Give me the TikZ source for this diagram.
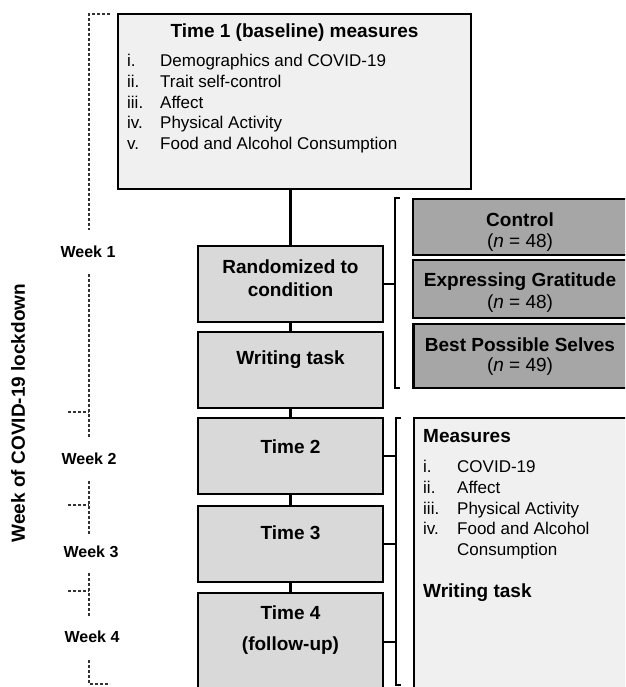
\documentclass[tikz,border=0pt]{standalone}
\usepackage{fontspec}
\setmainfont{Liberation Sans}
\definecolor{lightfill}{HTML}{F0F0F0}
\definecolor{midfill}{HTML}{D9D9D9}
\definecolor{darkfill}{HTML}{A6A6A6}
\definecolor{dashgray}{HTML}{333333}
\begin{document}
\begin{tikzpicture}[x=1pt,y=-1pt,
  boxbase/.style={draw=black,line width=2.5pt,inner sep=0pt,outer sep=0pt,rectangle},
  lightbox/.style={boxbase,fill=lightfill},
  midbox/.style={boxbase,fill=midfill,minimum width=185pt},
  darkbox/.style={boxbase,fill=darkfill,minimum width=214pt},
  conn/.style={draw=black,line width=2.5pt},
  brack/.style={draw=black,line width=1.3pt},
  wk/.style={draw=dashgray,line width=1.1pt,dash pattern=on 3pt off 2pt},
  bigb/.style={font=\fontsize{19}{23}\selectfont\bfseries,inner sep=0pt},
  reg/.style={font=\fontsize{19}{23}\selectfont,inner sep=0pt},
  item/.style={font=\fontsize{17}{20}\selectfont,inner sep=0pt,anchor=mid west},
  weekt/.style={font=\fontsize{16}{19}\selectfont\bfseries,inner sep=0pt}]
\clip (0,0) rectangle (625,687);
\fill[white] (0,0) rectangle (625,687);

% left boxes
\node[lightbox,minimum width=353pt,minimum height=175pt] (t1) at (294.5,101.5) {};
\node[midbox,minimum height=76pt] (rand) at (290.5,284) {};
\node[midbox,minimum height=76pt] (write) at (290.5,370) {};
\node[midbox,minimum height=76pt] (t2) at (290.5,456) {};
\node[midbox,minimum height=76pt] (t3) at (290.5,544) {};
\node[midbox,minimum height=98pt] (t4) at (290.5,642) {};

% connectors
\draw[conn] (t1.south -| rand.north) -- (rand.north);
\draw[conn] (rand) -- (write);
\draw[conn] (write) -- (t2);
\draw[conn] (t2) -- (t3);
\draw[conn] (t3) -- (t4);

% group boxes
\node[darkbox,minimum height=56pt] (ctrl) at (520,227) {};
\node[darkbox,minimum height=58pt] (grat) at (520,289) {};
\node[darkbox,minimum height=64pt] (best) at (520.5,356) {};
\node[lightbox,minimum width=228pt,minimum height=284pt] (meas) at (528,560) {};

% brackets
\coordinate (b1top) at (395,198);
\coordinate (b1bot) at (395,388);
\draw[brack] (400,198) -- (b1top) -- (b1bot) -- (400,388);
\coordinate (b1mid) at (395,284);
\draw[brack] (rand.east) -- (b1mid);

\coordinate (b2top) at (396,418);
\coordinate (b2bot) at (396,685);
\draw[brack] (401,418) -- (b2top) -- (b2bot) -- (401,685);
\draw[brack] (t2.east) -- (t2.east -| b2top);
\draw[brack] (t3.east) -- (t3.east -| b2top);
\draw[brack] (t4.east) -- (t4.east -| b2top);

% Time 1 text
\node[bigb] (t1title) at (294.5,33) {Time 1 (baseline) measures};
\foreach \lab/\txt [count=\k from 0] in {i./Demographics and COVID-19,ii./Trait self-control,iii./Affect,iv./Physical Activity,v./Food and Alcohol Consumption}{
  \node[item] (t1l\k) at (127,64+20.75*\k) {\lab};
  \node[item] (t1i\k) at (160,64+20.75*\k) {\txt};
}

% left box texts
\node[bigb] (randA) at (290.5,267) {Randomized to};
\node[bigb] (randB) at (290.5,290) {condition};
\node[bigb] (writeT) at (290.5,360) {Writing task};
\node[bigb] (t2T) at (290.5,447) {Time 2};
\node[bigb] (t3T) at (290.5,533) {Time 3};
\node[bigb] (t4T) at (290.5,613) {Time 4};
\node[bigb] (t4U) at (290.5,646) {(follow-up)};

% group texts
\node[bigb] (ctrlT) at (520,220) {Control};
\node[reg] (ctrlN) at (520,243) {(\textit{n} = 48)};
\node[bigb] (gratT) at (520,282) {Expressing Gratitude};
\node[reg] (gratN) at (520,304) {(\textit{n} = 48)};
\node[bigb] (bestT) at (520,345) {Best Possible Selves};
\node[reg] (bestN) at (520,367) {(\textit{n} = 49)};

% measures texts
\node[bigb,anchor=mid west] (measT) at (423,440) {Measures};
\foreach \lab/\txt [count=\k from 0] in {i./COVID-19,ii./Affect,iii./Physical Activity,iv./Food and Alcohol}{
  \node[item] (ml\k) at (423,470+20.75*\k) {\lab};
  \node[item] (mi\k) at (457,470+20.75*\k) {\txt};
}
\node[item] (mi4) at (457,553) {Consumption};
\node[bigb,anchor=mid west] (measW) at (423,595) {Writing task};

% week axis
\node[weekt] (w1) at (88,252) {Week 1};
\node[weekt] (w2) at (89,459) {Week 2};
\node[weekt] (w3) at (91,552) {Week 3};
\node[weekt] (w4) at (92,637) {Week 4};
\coordinate (a0) at (89,14);
\coordinate (a0r) at (110,14);
\coordinate (a1) at (89,230);
\coordinate (a2) at (89,274);
\coordinate (a3) at (89,438);
\coordinate (k1) at (89,412);
\coordinate (k1l) at (68,412);
\coordinate (a4) at (89,481);
\coordinate (a5) at (89,534);
\coordinate (k2) at (89,505);
\coordinate (k2l) at (68,505);
\coordinate (a6) at (89,573);
\coordinate (a7) at (89,617);
\coordinate (k3) at (89,591);
\coordinate (k3l) at (68,591);
\coordinate (a8) at (89,660);
\coordinate (a9) at (89,684);
\coordinate (a9r) at (110,684);
\draw[wk] (a0r) -- (a0) -- (a1);
\draw[wk] (a2) -- (a3);
\draw[wk] (k1l) -- (k1);
\draw[wk] (a4) -- (a5);
\draw[wk] (k2l) -- (k2);
\draw[wk] (a6) -- (a7);
\draw[wk] (k3l) -- (k3);
\draw[wk] (a8) -- (a9) -- (a9r);

\node[bigb,rotate=90] (axis) at (18,413) {Week of COVID-19 lockdown};
\end{tikzpicture}
\end{document}
